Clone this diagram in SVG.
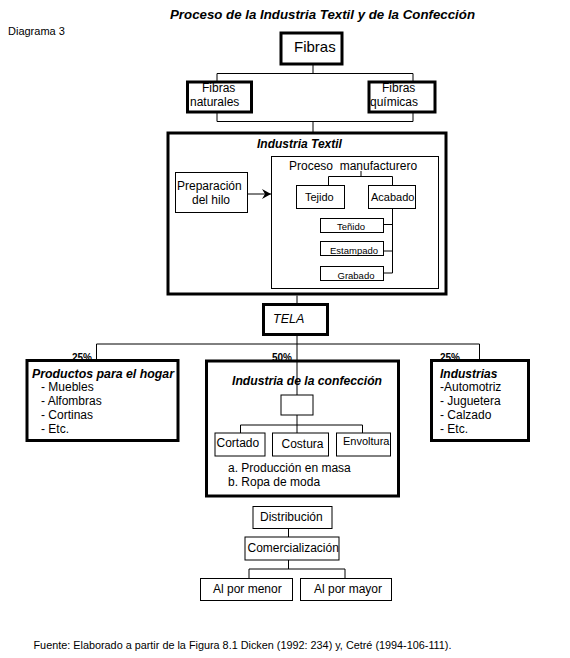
<svg xmlns="http://www.w3.org/2000/svg" width="570" height="658" viewBox="0 0 570 658">
<style>
text{font-family:"Liberation Sans",Arial,sans-serif;fill:#000}
.t12{font-size:12px}
.t11{font-size:11px}
.t10{font-size:10px}
.sm{font-size:9.5px}
.bi{font-weight:bold;font-style:italic;font-size:12px}
.pct{font-weight:bold;font-size:10px}
.thick{fill:none;stroke:#000;stroke-width:3}
.thin{fill:none;stroke:#000;stroke-width:1}
.conn path{fill:none;stroke:#000;stroke-width:1}
</style>
<defs>
<marker id="arr" markerWidth="10" markerHeight="10" refX="9" refY="5" orient="auto" markerUnits="userSpaceOnUse">
<path d="M0,0 L9,5 L0,10 L3,5 Z" fill="#000"/>
</marker>
</defs>
<rect width="570" height="658" fill="#fff"/>
<text x="170" y="19" class="bi" textLength="305" lengthAdjust="spacingAndGlyphs">Proceso de la Industria Textil y de la Confección</text>
<text x="8" y="35" class="t11">Diagrama 3</text>

<g id="connectors" class="conn">
<path d="M313 64V73.5M217 73.5H413M217 73.5V81M413 73.5V81"/>
<path d="M217 112V121.5M413 112V121.5M217 121.5H413M313 121.5V132"/>
<path d="M361 171V176.5M328.5 176.5H392.5M328.5 176.5V185M392.5 176.5V185"/>
<path d="M392.5 208.5V273M383.5 224.5H392.5M383.5 251H392.5M383.5 273H392.5"/>
<path d="M247.5 194H271" marker-end="url(#arr)"/>
<path d="M297 295.5V304M297 335V344M96.5 344H479.5M96.5 344V359M479.5 344V359M297 344V395"/>
<path d="M297 415V425M240.5 425H362.5M240.5 425V433M297 425V433M362.5 425V433"/>
<path d="M288.5 528.5V537M288.5 560V569M249 569H345M249 569V578.5M345 569V578.5"/>
</g>

<g id="fibras">
<rect x="281" y="33" width="61" height="31" class="thick"/>
<text x="294" y="52" style="font-size:15px">Fibras</text>
</g>
<g id="fibras-naturales">
<rect x="187.5" y="82" width="64" height="30" class="thick"/>
<text x="202" y="92" class="t12">Fibras</text>
<text x="190" y="105.5" class="t12">naturales</text>
</g>
<g id="fibras-quimicas">
<rect x="369" y="82" width="66" height="30" class="thick"/>
<text x="382" y="92" class="t12">Fibras</text>
<text x="370" y="105.5" class="t12">químicas</text>
</g>

<g id="industria-textil">
<rect x="168" y="133" width="278" height="161" class="thick"/>
<text x="257" y="148" class="bi">Industria Textil</text>
</g>
<g id="preparacion">
<rect x="175.5" y="172.5" width="72" height="40" class="thin"/>
<text x="177" y="190" class="t12">Preparación</text>
<text x="192" y="204" class="t12">del hilo</text>
</g>
<g id="proceso">
<rect x="271.5" y="156.5" width="167" height="132" class="thin"/>
<text x="289" y="170" class="t12" xml:space="preserve">Proceso  manufacturero</text>
</g>
<g id="tejido">
<rect x="296.5" y="185.5" width="48" height="23" class="thin"/>
<text x="305" y="201" class="t11">Tejido</text>
</g>
<g id="acabado">
<rect x="368.5" y="185.5" width="47" height="23" class="thin"/>
<text x="371" y="201" class="t11">Acabado</text>
</g>
<g id="tenido">
<rect x="320.5" y="218.5" width="63" height="14" class="thin"/>
<text x="337" y="229.5" class="sm">Teñido</text>
</g>
<g id="estampado">
<rect x="320.5" y="241.5" width="63" height="14" class="thin"/>
<text x="330" y="254" class="sm">Estampado</text>
</g>
<g id="grabado">
<rect x="320.5" y="266.5" width="63" height="14" class="thin"/>
<text x="337.5" y="278.5" class="sm">Grabado</text>
</g>

<g id="tela">
<rect x="263.5" y="304.5" width="64" height="30" class="thick"/>
<text x="273" y="323" style="font-size:12.5px;font-style:italic">TELA</text>
</g>

<g id="pct">
<text x="72" y="361" class="pct">25%</text>
<text x="272" y="361" class="pct">50%</text>
<text x="440" y="361" class="pct">25%</text>
</g>

<g id="productos-hogar">
<rect x="27" y="360.5" width="151" height="80" class="thick"/>
<text x="32" y="378" class="bi" textLength="142" lengthAdjust="spacingAndGlyphs">Productos para el hogar</text>
<text x="41" y="391" class="t12">- Muebles</text>
<text x="41" y="405" class="t12">- Alfombras</text>
<text x="41" y="418.5" class="t12">- Cortinas</text>
<text x="41" y="432.5" class="t12">- Etc.</text>
</g>

<g id="industria-confeccion">
<rect x="206.5" y="361" width="192" height="135" class="thick"/>
<text x="232" y="385" class="bi" textLength="150" lengthAdjust="spacingAndGlyphs">Industria de la confección</text>
<text x="228" y="471.5" class="t12">a. Producción en masa</text>
<text x="228" y="485.5" class="t12">b. Ropa de moda</text>
</g>
<g id="confeccion-blank">
<rect x="281" y="395" width="32" height="20" class="thin"/>
</g>
<g id="cortado">
<rect x="215" y="433" width="50" height="23" class="thin"/>
<text x="216.5" y="447" class="t12">Cortado</text>
</g>
<g id="costura">
<rect x="272.5" y="433" width="56" height="23" class="thin"/>
<text x="281.5" y="448" class="t12">Costura</text>
</g>
<g id="envoltura">
<rect x="336.5" y="433" width="54" height="23" class="thin"/>
<text x="343" y="445" class="t11">Envoltura</text>
</g>

<g id="industrias">
<rect x="431.5" y="360.5" width="97" height="80" class="thick"/>
<text x="440" y="378" class="bi">Industrias</text>
<text x="440" y="391" class="t12">-Automotriz</text>
<text x="440" y="405" class="t12">- Juguetera</text>
<text x="440" y="418.5" class="t12">- Calzado</text>
<text x="440" y="432.5" class="t12">- Etc.</text>
</g>

<g id="distribucion">
<rect x="253" y="506.5" width="79" height="22" class="thin"/>
<text x="260" y="521" class="t12">Distribución</text>
</g>
<g id="comercializacion">
<rect x="245" y="537" width="94" height="23" class="thin"/>
<text x="247.5" y="552" class="t12">Comercialización</text>
</g>
<g id="al-por-menor">
<rect x="200.5" y="578.5" width="92" height="22" class="thin"/>
<text x="213" y="593" class="t12">Al por menor</text>
</g>
<g id="al-por-mayor">
<rect x="300.5" y="578.5" width="91" height="22" class="thin"/>
<text x="314" y="593" class="t12">Al por mayor</text>
</g>

<text x="33.5" y="649" class="t10" textLength="418" lengthAdjust="spacingAndGlyphs">Fuente: Elaborado a partir de la Figura 8.1 Dicken (1992: 234) y, Cetré (1994-106-111).</text>
</svg>
